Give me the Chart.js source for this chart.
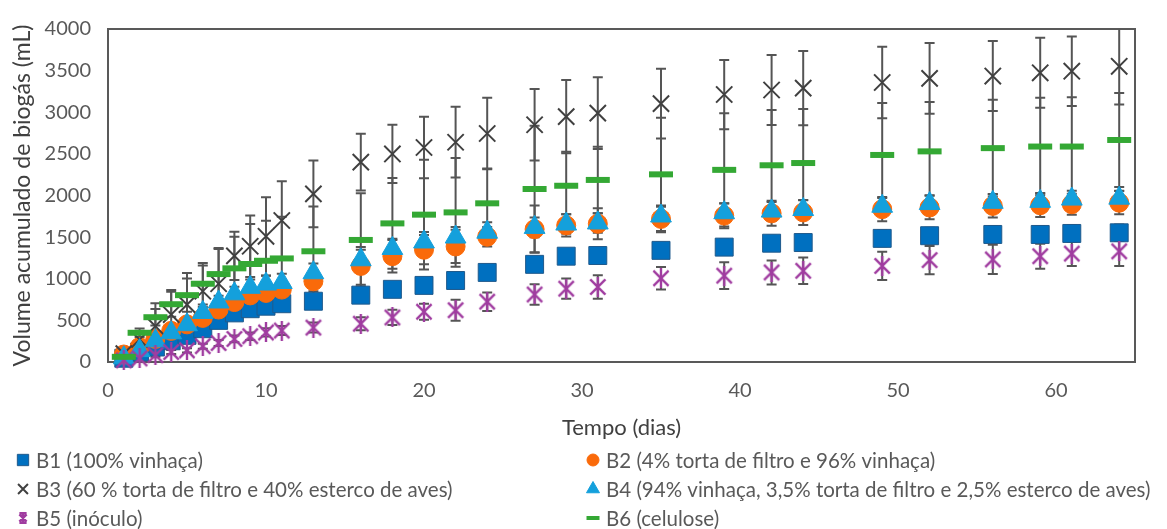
<!DOCTYPE html>
<html><head><meta charset="utf-8">
<script src="https://cdn.jsdelivr.net/npm/chart.js@4.4.0/dist/chart.umd.min.js"></script>
<style>html,body{margin:0;padding:0;background:#fff;}#wrap{width:1167px;height:529px;position:relative;}</style>
</head><body><div id="wrap"><canvas id="c" width="1167" height="529"></canvas></div>
<script>
// ---- data ----
const days = [1,2,3,4,5,6,7,8,9,10,11,13,16,18,20,22,24,27,29,31,35,39,42,44,49,52,56,59,61,64];
const b1 = [45,120,180,255,320,400,500,590,640,670,700,730,803,873,920,979,1076,1173,1271,1279,1341,1380,1427,1435,1485,1517,1532,1532,1544,1552];
const b1Err = [10,20,25,30,35,40,45,50,55,60,60,65,70,70,75,75,80,80,85,85,90,90,90,95,95,95,100,100,100,100];
const b2 = [90,180,277,374,452,530,630,720,800,830,870,970,1154,1271,1349,1388,1505,1595,1641,1661,1719,1758,1786,1797,1836,1856,1875,1883,1895,1914];
const b2Err = [15,25,35,45,55,65,75,85,95,100,105,120,226,195,176,200,117,284,133,187,160,150,150,150,145,140,140,140,125,140];
const b3 = [100,270,430,570,690,850,940,1275,1390,1510,1700,2020,2401,2499,2577,2640,2745,2850,2947,2990,3104,3213,3267,3290,3357,3407,3435,3474,3493,3552];
const b3Err = [40,80,275,295,380,310,430,290,370,470,470,400,340,350,370,425,430,430,440,430,420,416,420,445,430,425,420,420,417,460];
const b4 = [50,137,254,351,448,595,721,819,897,936,955,1072,1228,1364,1442,1501,1559,1617,1657,1670,1754,1793,1813,1832,1871,1903,1918,1930,1957,1968];
const b4Err = [15,25,35,45,55,65,75,85,95,100,105,110,120,117,120,120,120,120,117,118,110,110,110,110,100,100,100,100,100,90];
const b5 = [20,43,82,120,140,190,228,277,310,355,378,413,460,535,604,622,725,811,881,901,1006,1037,1076,1096,1154,1224,1232,1271,1302,1329];
const b5Err = [10,15,20,25,25,30,35,40,45,50,55,60,78,92,97,127,111,123,121,140,136,160,144,160,170,170,175,150,148,175];
const b6 = [62,351,538,694,803,940,1056,1125,1177,1216,1244,1330,1466,1665,1770,1797,1906,2078,2117,2187,2254,2308,2363,2390,2487,2530,2569,2588,2588,2667];
const b6Err = [20,50,100,150,200,250,300,380,480,480,500,538,560,545,659,652,417,760,410,400,680,680,665,650,624,593,580,585,593,565];
const seriesNames = [
  'B1 (100% vinhaça)',
  'B2 (4% torta de filtro e 96% vinhaça)',
  'B3 (60 % torta de filtro e 40% esterco de aves)',
  'B4 (94% vinhaça, 3,5% torta de filtro e 2,5% esterco de aves)',
  'B5 (inóculo)',
  'B6 (celulose)'
];
const yTitle = 'Volume acumulado de biogás (mL)';
const xTitle = 'Tempo (dias)';

const FONT = 'Lato';
const GREY = '#595959';

function starCanvas(size, color, lw, bars) {
  const c = document.createElement('canvas');
  c.width = size; c.height = size;
  const g = c.getContext('2d');
  g.strokeStyle = color; g.lineWidth = lw; g.lineCap = 'butt';
  const m = lw;
  g.beginPath();
  g.moveTo(m, m); g.lineTo(size - m, size - m);
  g.moveTo(size - m, m); g.lineTo(m, size - m);
  g.moveTo(size / 2, 0); g.lineTo(size / 2, size);
  if (bars) {
    g.moveTo(m, lw / 2); g.lineTo(size - m, lw / 2);
    g.moveTo(m, size - lw / 2); g.lineTo(size - m, size - lw / 2);
  }
  g.stroke();
  return c;
}
const starBig = starCanvas(20, '#A03CA0', 2.4, false);
const starSmall = starCanvas(12, '#A03CA0', 2.4, true);

const pts = (arr) => arr.map((v, i) => ({x: days[i], y: v}));

const styles = [
  {pointStyle: 'rect', radius: 12.7, bg: '#0070C0', border: '#1F5A8C', bw: 1, order: 6},
  {pointStyle: 'circle', radius: 9.5, bg: '#FA6A0A', border: '#FA6A0A', bw: 1, order: 5},
  {pointStyle: 'crossRot', radius: 11.5, bg: '#404040', border: '#404040', bw: 2, order: 4},
  {pointStyle: 'triangle', radius: 12, bg: '#14A0DC', border: '#14A0DC', bw: 1, order: 3},
  {pointStyle: starBig, radius: 10, bg: '#A03CA0', border: '#A03CA0', bw: 0, order: 2},
  {pointStyle: 'line', radius: 12, bg: '#34A834', border: '#34A834', bw: 6, order: 1}
];
const values = [b1, b2, b3, b4, b5, b6];
const errors = [b1Err, b2Err, b3Err, b4Err, b5Err, b6Err];

const datasets = values.map((v, k) => ({
  label: seriesNames[k],
  data: pts(v),
  errors: errors[k],
  showLine: false,
  pointStyle: styles[k].pointStyle,
  pointRadius: styles[k].radius,
  pointHoverRadius: styles[k].radius,
  pointBackgroundColor: styles[k].bg,
  pointBorderColor: styles[k].border,
  pointBorderWidth: styles[k].bw,
  order: styles[k].order,
  clip: false
}));

const frameAndErrors = {
  id: 'frameAndErrors',
  beforeDatasetsDraw(chart) {
    const {ctx, chartArea: a, scales: {x, y}} = chart;
    ctx.save();
    ctx.strokeStyle = GREY;
    ctx.lineWidth = 2;
    ctx.strokeRect(Math.round(a.left), Math.round(a.top), Math.round(a.right - a.left), Math.round(a.bottom - a.top));
    ctx.beginPath();
    ctx.rect(a.left, a.top, a.right - a.left, a.bottom - a.top + 20);
    ctx.clip();
    ctx.lineWidth = 2;
    ctx.strokeStyle = '#555555';
    chart.data.datasets.forEach((ds) => {
      ds.data.forEach((p, i) => {
        const e = ds.errors[i];
        const px = x.getPixelForValue(p.x);
        const yt = y.getPixelForValue(p.y + e);
        const yb = y.getPixelForValue(p.y - e);
        ctx.beginPath();
        ctx.moveTo(px, yt); ctx.lineTo(px, yb);
        ctx.moveTo(px - 5, yt); ctx.lineTo(px + 5, yt);
        ctx.moveTo(px - 5, yb); ctx.lineTo(px + 5, yb);
        ctx.stroke();
      });
    });
    ctx.restore();
  }
};

const legendPlugin = {
  id: 'bottomLegend',
  afterDraw(chart) {
    const ctx = chart.ctx;
    const cols = [23, 593];
    const rows = [460, 489, 518];
    const mk = [
      {pointStyle: 'rect', radius: 8, bg: '#0070C0', border: '#1F5A8C', bw: 1},
      {pointStyle: 'circle', radius: 6, bg: '#FA6A0A', border: '#FA6A0A', bw: 1},
      {pointStyle: 'crossRot', radius: 7, bg: '#404040', border: '#404040', bw: 2},
      {pointStyle: 'triangle', radius: 7.5, bg: '#14A0DC', border: '#14A0DC', bw: 1},
      {pointStyle: starSmall, radius: 6, bg: '#A03CA0', border: '#A03CA0', bw: 0},
      {pointStyle: 'line', radius: 6.5, bg: '#34A834', border: '#34A834', bw: 4}
    ];
    ctx.save();
    ctx.font = '20.5px ' + FONT;
    ctx.textBaseline = 'middle';
    seriesNames.forEach((name, k) => {
      const cx = cols[k % 2];
      const cy = rows[Math.floor(k / 2)];
      const m = mk[k];
      ctx.fillStyle = m.bg; ctx.strokeStyle = m.border; ctx.lineWidth = m.bw;
      Chart.helpers.drawPoint(ctx, {pointStyle: m.pointStyle, radius: m.radius, borderWidth: m.bw, rotation: 0}, cx, cy);
      ctx.fillStyle = GREY;
      ctx.fillText(name, cx + 13, cy + 1);
    });
    ctx.restore();
  }
};

new Chart(document.getElementById('c'), {
  type: 'scatter',
  data: {datasets},
  options: {
    responsive: false,
    animation: false,
    devicePixelRatio: 1,
    layout: {padding: {left: 0, right: 32, top: 20, bottom: 87}},
    plugins: {legend: {display: false}, tooltip: {enabled: false}},
    scales: {
      x: {
        type: 'linear', min: 0, max: 65,
        afterBuildTicks: (s) => { s.ticks = s.ticks.filter(t => t.value % 10 === 0); },
        afterFit: (s) => { s.height = 80; },
        grid: {display: false, drawTicks: false},
        border: {display: false},
        ticks: {stepSize: 10, color: GREY, font: {family: FONT, size: 20}, padding: 17, maxRotation: 0, callback: (v) => String(v)},
        title: {display: true, text: xTitle, color: '#404040', font: {family: FONT, size: 22}, padding: {top: 0, bottom: 1}}
      },
      y: {
        min: 0, max: 4000,
        afterFit: (s) => { s.width = 108; },
        grid: {display: false, drawTicks: false},
        border: {display: false},
        ticks: {stepSize: 500, color: GREY, font: {family: FONT, size: 20}, padding: 17, callback: (v) => String(v)},
        title: {display: true, text: yTitle, color: '#404040', font: {family: FONT, size: 23}, padding: {top: 9, bottom: 0}}
      }
    }
  },
  plugins: [frameAndErrors, legendPlugin]
});
</script>
</body></html>
